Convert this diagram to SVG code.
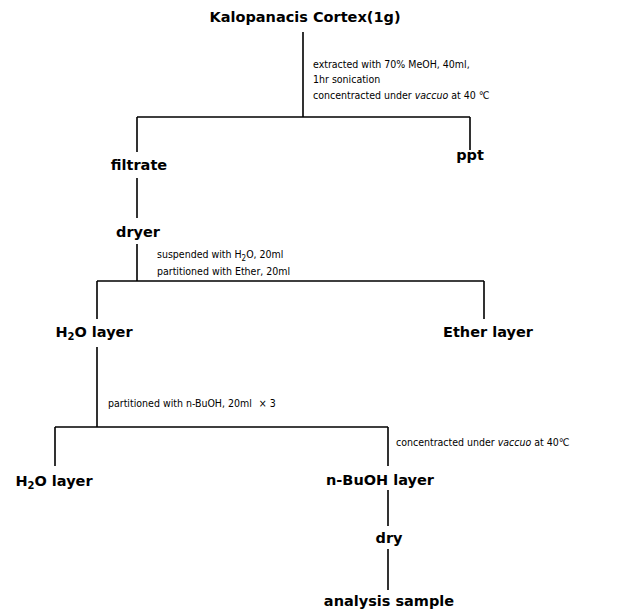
<svg xmlns="http://www.w3.org/2000/svg" width="627" height="612" viewBox="0 0 627 612">
<style>
.n{font-family:"DejaVu Sans","Liberation Sans",sans-serif;font-weight:bold;font-size:14.5px;fill:#000;text-anchor:middle}
.a{font-family:"DejaVu Sans Condensed","DejaVu Sans","Liberation Sans",sans-serif;font-size:10.5px;fill:#000}
.c{stroke:#000;stroke-width:1.6;fill:none}
</style>
<rect width="627" height="612" fill="#fff"/>
<g id="connectors">
<path class="c" d="M303,32V117M137,117H470M470,117V150M137,117V152"/>
<path class="c" d="M137,178V218"/>
<path class="c" d="M137,244V281M97,281H484M97,281V319M484,281V319"/>
<path class="c" d="M97,347V427M55,427H388M55,427V466M388,427V466"/>
<path class="c" d="M388,490V526M388,549V590"/>
</g>
<g id="annotations">
<text class="a" x="313" y="68">extracted with 70% MeOH, 40ml,</text>
<text class="a" x="313" y="83">1hr sonication</text>
<text class="a" x="313" y="99">concentracted under <tspan font-style="italic">vaccuo</tspan> at 40 ℃</text>
<text class="a" x="157" y="258">suspended with H<tspan font-size="8" dy="2.5">2</tspan><tspan dy="-2.5">O, 20ml</tspan></text>
<text class="a" x="157" y="275">partitioned with Ether, 20ml</text>
<text class="a" x="108" y="407">partitioned with n-BuOH, 20ml <tspan dx="4">× 3</tspan></text>
<text class="a" x="396" y="446">concentracted under <tspan font-style="italic">vaccuo</tspan> at 40℃</text>
</g>
<g id="node-kalopanacis"><text class="n" x="305" y="22">Kalopanacis Cortex(1g)</text></g>
<g id="node-filtrate"><text class="n" x="139" y="170">filtrate</text></g>
<g id="node-ppt"><text class="n" x="470" y="160">ppt</text></g>
<g id="node-dryer"><text class="n" x="138" y="237">dryer</text></g>
<g id="node-h2o-layer-1"><text class="n" x="94" y="337">H<tspan font-size="10" dy="3">2</tspan><tspan dy="-3">O layer</tspan></text></g>
<g id="node-ether-layer"><text class="n" x="488" y="337">Ether layer</text></g>
<g id="node-h2o-layer-2"><text class="n" x="54" y="486">H<tspan font-size="10" dy="3">2</tspan><tspan dy="-3">O layer</tspan></text></g>
<g id="node-nbuoh-layer"><text class="n" x="380" y="485">n-BuOH layer</text></g>
<g id="node-dry"><text class="n" x="389" y="543">dry</text></g>
<g id="node-analysis-sample"><text class="n" x="389" y="606">analysis sample</text></g>
</svg>
